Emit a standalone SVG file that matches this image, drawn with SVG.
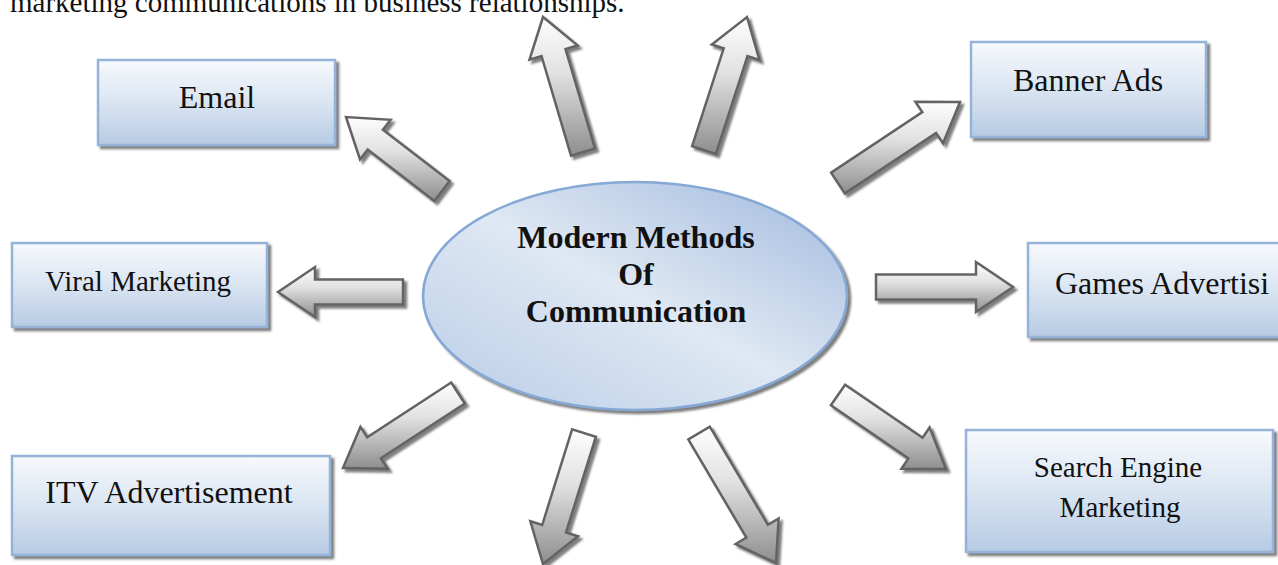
<svg xmlns="http://www.w3.org/2000/svg" width="1278" height="565" viewBox="0 0 1278 565">
<defs>
<linearGradient id="boxGrad" x1="0" y1="0" x2="0" y2="1">
<stop offset="0" stop-color="#f7f9fc"/>
<stop offset="0.45" stop-color="#dde7f3"/>
<stop offset="1" stop-color="#b7cbe4"/>
</linearGradient>
<linearGradient id="arrowGrad" x1="0" y1="0" x2="0" y2="1">
<stop offset="0" stop-color="#fefefe"/>
<stop offset="0.4" stop-color="#e2e2e2"/>
<stop offset="1" stop-color="#8e8e8e"/>
</linearGradient>
<linearGradient id="ellGrad" x1="1" y1="0" x2="0" y2="1">
<stop offset="0" stop-color="#9fb9de"/>
<stop offset="0.5" stop-color="#dfe8f3"/>
<stop offset="1" stop-color="#b8cce7"/>
</linearGradient>
<filter id="shadow" x="-10%" y="-10%" width="125%" height="130%">
<feDropShadow dx="3" dy="3" stdDeviation="0.8" flood-color="#555" flood-opacity="0.75"/>
</filter>
</defs>
<style>
.box{fill:url(#boxGrad);stroke:#95b3d7;stroke-width:2.5;filter:url(#shadow)}
.arrow{fill:url(#arrowGrad);stroke:#646464;stroke-width:2.5;stroke-linejoin:miter;filter:url(#shadow)}
.lbl{font-family:"Liberation Serif","Times New Roman",serif;fill:#111;text-anchor:middle}
.big{font-size:32px}
.mid{font-size:29px}
.hub{font-size:32px;font-weight:bold}
</style>
<text x="10" y="12" font-family="Liberation Serif, serif" font-size="29" fill="#111">marketing communications in business relationships.</text>
<g id="connectors">
<path class="arrow" d="M449.6,181.1 L382.9,129.7 L390.6,119.8 L346,117 L360.0,159.4 L367.7,149.5 L434.4,200.9 Z"/>
<path class="arrow" d="M595.0,148.5 L565.5,49.0 L577.5,45.4 L543,17 L529.5,59.6 L541.5,56.0 L571.0,155.6 Z"/>
<path class="arrow" d="M715.9,153.9 L747.5,56.0 L759.4,59.9 L747,17 L711.8,44.5 L723.7,48.3 L692.1,146.2 Z"/>
<path class="arrow" d="M844.9,193.4 L936.1,132.9 L943.0,143.3 L960,102 L915.4,101.7 L922.3,112.1 L831.1,172.6 Z"/>
<path class="arrow" d="M876,299.5 L976,299.5 L976,312 L1013,287 L976,262 L976,274.5 L876,274.5 Z"/>
<path class="arrow" d="M403,279.5 L315,279.5 L315,267 L278,292 L315,317 L315,304.5 L403,304.5 Z"/>
<path class="arrow" d="M451.2,382.5 L367.2,437.3 L360.4,426.9 L343,468 L387.7,468.8 L380.8,458.3 L464.8,403.5 Z"/>
<path class="arrow" d="M572.1,429.3 L542.2,525.0 L530.3,521.2 L543,564 L578.0,536.2 L566.0,532.4 L595.9,436.7 Z"/>
<path class="arrow" d="M688.3,439.4 L746.4,537.6 L735.6,544.0 L776,563 L778.6,518.5 L767.9,524.8 L709.8,426.6 Z"/>
<path class="arrow" d="M830.9,405.3 L908.4,458.4 L901.4,468.7 L946,469 L929.6,427.5 L922.6,437.8 L845.1,384.7 Z"/>
</g>
<g id="hub">
<ellipse cx="635" cy="296" rx="212" ry="114" fill="url(#ellGrad)" stroke="#86a8d4" stroke-width="2.5" filter="url(#shadow)"/>
<text class="lbl hub" x="636" y="248">Modern Methods</text>
<text class="lbl hub" x="636" y="285">Of</text>
<text class="lbl hub" x="636" y="322">Communication</text>
</g>
<g id="email">
<rect class="box" x="98" y="60" width="237" height="85"/>
<text class="lbl big" x="217" y="108">Email</text>
</g>
<g id="banner-ads">
<rect class="box" x="971" y="42" width="235" height="95"/>
<text class="lbl big" x="1088" y="91">Banner Ads</text>
</g>
<g id="viral-marketing">
<rect class="box" x="12" y="243" width="255" height="84"/>
<text class="lbl mid" x="138" y="291">Viral Marketing</text>
</g>
<g id="games-advertising">
<rect class="box" x="1028" y="243" width="270" height="94"/>
<text class="lbl big" x="1055" y="294" style="text-anchor:start">Games Advertisi</text>
</g>
<g id="itv-advertisement">
<rect class="box" x="12" y="456" width="318" height="99"/>
<text class="lbl big" x="169" y="503">ITV Advertisement</text>
</g>
<g id="search-engine-marketing">
<rect class="box" x="966" y="430" width="307" height="122"/>
<text class="lbl mid" x="1118" y="477">Search Engine</text>
<text class="lbl mid" x="1120" y="517">Marketing</text>
</g>
</svg>
